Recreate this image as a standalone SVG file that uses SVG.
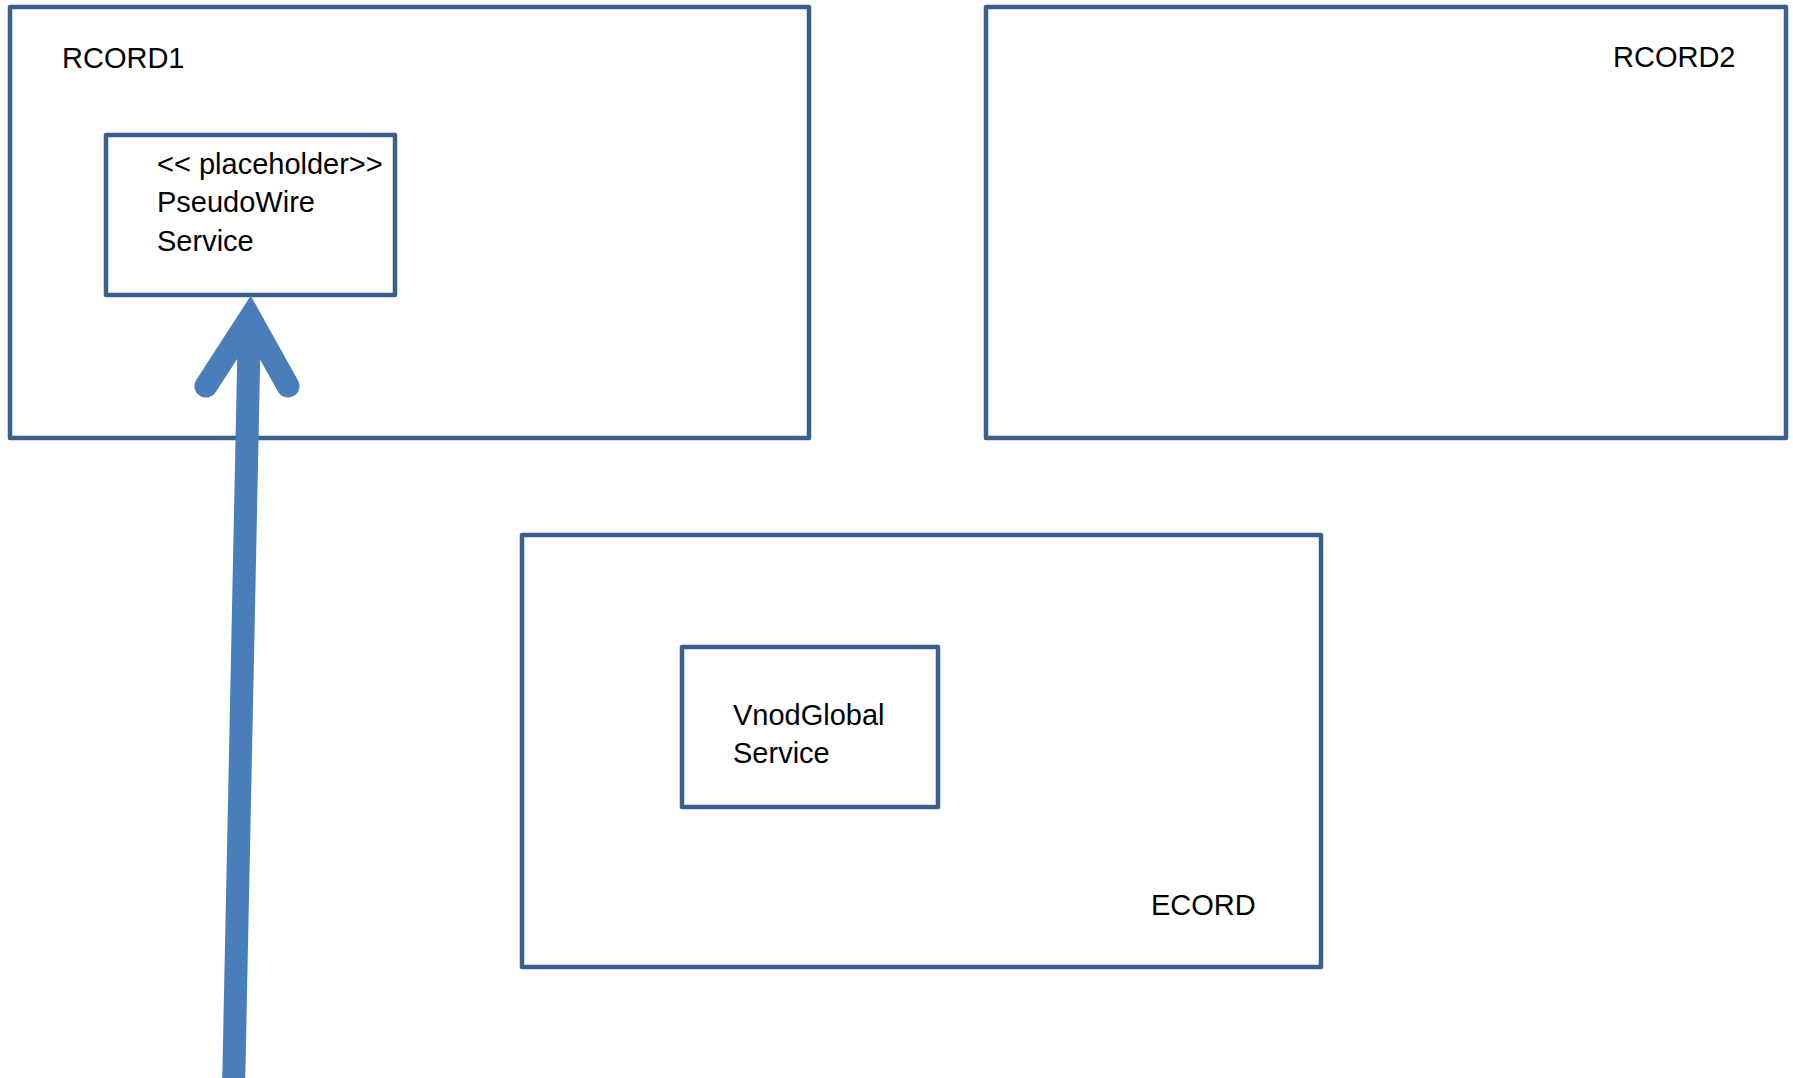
<svg xmlns="http://www.w3.org/2000/svg" width="1793" height="1078" viewBox="0 0 1793 1078">
<style>
.box{fill:none;stroke:#3A5F8B;stroke-width:4.5;stroke-linejoin:round}
.lbl{font-family:"Liberation Sans",Arial,sans-serif;font-size:29px;fill:#000}
.arrow{fill:none;stroke:#4A7EBB;stroke-width:23}
</style>
<rect width="1793" height="1078" fill="#fff"/>
<g id="rcord1">
<rect class="box" x="10" y="7" width="799" height="431"/>
<text class="lbl" x="62" y="68">RCORD1</text>
</g>
<g id="rcord2">
<rect class="box" x="986" y="7" width="800" height="431"/>
<text class="lbl" x="1613" y="67">RCORD2</text>
</g>
<g id="ecord">
<rect class="box" x="522" y="535" width="799" height="432"/>
<text class="lbl" x="1151" y="915">ECORD</text>
</g>
<g id="pseudowire">
<rect class="box" x="106" y="135" width="289" height="160"/>
<text class="lbl" x="157" y="174">&lt;&lt; placeholder&gt;&gt;</text>
<text class="lbl" x="157" y="212">PseudoWire</text>
<text class="lbl" x="157" y="251">Service</text>
</g>
<g id="vnodglobal">
<rect class="box" x="682" y="647" width="256" height="160"/>
<text class="lbl" x="733" y="725">VnodGlobal</text>
<text class="lbl" x="733" y="763">Service</text>
</g>
<g id="connectors">
<line class="arrow" x1="233.5" y1="1090" x2="249.5" y2="320"/>
<polyline class="arrow" points="206,386 250,318 288,386" stroke-linecap="round" stroke-linejoin="miter"/>
</g>
</svg>
